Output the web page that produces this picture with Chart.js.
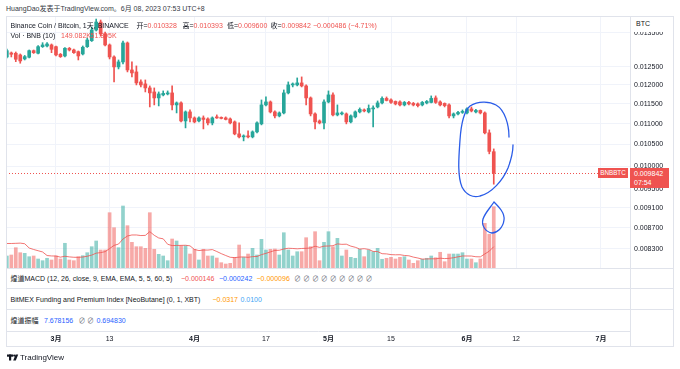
<!DOCTYPE html>
<html><head><meta charset="utf-8">
<script src="https://cdn.jsdelivr.net/npm/chart.js@4.4.0/dist/chart.umd.min.js"></script>
<style>
body{margin:0;background:#fff;width:680px;height:369px;overflow:hidden;position:relative;font-family:"Liberation Sans","Noto Sans CJK SC",sans-serif;color:#131722}
.t{position:absolute;white-space:nowrap;font-size:7px;line-height:9px;color:#131722}
.r{color:#ef5350}.b{color:#2962ff}.o{color:#ff9800}.lb{color:#42a5f5}.g{color:#787b86}
.hl{position:absolute;height:1px;background:#e0e3eb}
</style></head><body>
<div class="t" style="left:6px;top:4px;color:#363a45">HuangDao发表于TradingView.com。6月 08, 2023 07:53 UTC+8</div>
<canvas id="c" width="668" height="331" style="position:absolute;left:6px;top:17px"></canvas>
<div style="position:absolute;left:6px;top:16px;width:668px;height:331px;border:1px solid #e0e3eb;box-sizing:border-box;pointer-events:none"></div>
<div style="position:absolute;left:631px;top:17px;width:42px;height:15px;background:#fff"></div>
<div class="t" style="left:636px;top:19px">BTC</div>
<!-- lower panes -->
<div style="position:absolute;left:7px;top:268px;width:623px;height:63px;background:#fff"></div>
<div class="hl" style="left:6px;top:268px;width:668px"></div>
<div class="hl" style="left:6px;top:288px;width:668px"></div>
<div class="hl" style="left:6px;top:309px;width:668px"></div>
<div style="position:absolute;left:630px;top:331px;width:1px;height:16px;background:#e0e3eb"></div>
<!-- legends -->
<div class="t" style="left:10.5px;top:20.5px">Binance Coin / Bitcoin, 1天, BINANCE</div>
<div class="t" style="left:136.5px;top:20.5px">开=<span class="r">0.010328</span></div>
<div class="t" style="left:182.5px;top:20.5px">高=<span class="r">0.010393</span></div>
<div class="t" style="left:227px;top:20.5px">低=<span class="r">0.009600</span></div>
<div class="t" style="left:270.5px;top:20.5px">收=<span class="r">0.009842</span></div>
<div class="t r" style="left:313px;top:20.5px">−0.000486 (−4.71%)</div>
<div class="t" style="left:10.5px;top:30.5px">Vol · BNB (10)</div>
<div class="t r" style="left:61px;top:30.5px">149.082K</div>
<div class="t r" style="left:90.5px;top:30.5px">51.895K</div>
<div class="t" style="left:10.5px;top:273.8px">煌道MACD (12, 26, close, 9, EMA, EMA, 5, 5, 60, 5)</div>
<div class="t r" style="left:181px;top:273.8px">−0.000146</div>
<div class="t b" style="left:219px;top:273.8px">−0.000242</div>
<div class="t o" style="left:256.5px;top:273.8px">−0.000096</div>
<div class="t g" style="left:294px;top:273.8px">∅ ∅ ∅ ∅ ∅ ∅ ∅ ∅ ∅</div>
<div class="t" style="left:10.5px;top:294.8px">BitMEX Funding and Premium Index [NeoButane] (0, 1, XBT)</div>
<div class="t o" style="left:212.5px;top:294.8px">−0.0317</div>
<div class="t lb" style="left:240.5px;top:294.8px">0.0100</div>
<div class="t" style="left:10.5px;top:315.5px">煌道振幅</div>
<div class="t b" style="left:44px;top:315.5px">7.678156</div>
<div class="t g" style="left:78.5px;top:315.5px">∅</div>
<div class="t g" style="left:87px;top:315.5px">∅</div>
<div class="t b" style="left:96.5px;top:315.5px">0.694830</div>
<!-- price labels -->
<div class="t" style="left:598px;top:168px;width:30px;height:9.5px;background:#ef5350;color:#fff;font-size:6.3px;line-height:9.5px;text-align:center">BNBBTC</div>
<div style="position:absolute;left:630px;top:167.5px;width:39px;height:20px;background:#ef5350"></div>
<div class="t" style="left:634px;top:168.5px;color:#fff">0.009842</div>
<div class="t" style="left:634px;top:177.5px;color:#fff">07:54</div>
<!-- footer and hand-drawn marks -->
<svg style="position:absolute;left:0;top:0" width="680" height="369">
 <g fill="#131722"><rect x="7" y="354.5" width="6" height="2.2"/><rect x="9" y="354.5" width="2.2" height="6"/><circle cx="14.2" cy="355.6" r="1.1"/><path d="M15.6 354.5 L18.2 354.5 L15.8 360.5 L13.2 360.5 Z"/></g>
 <g fill="none" stroke="#2a5ce8" stroke-width="1.3" stroke-linecap="round">
  <path d="M509,137 C509,125 505,110 496,105 C489,101 478,101 470,106 C463,112 461,125 460,140 C459,155 457,175 462,187 C466,195 473,198 480,196 C492,193 503,180 508,168 C511,160 513,152 513,145"/>
  <path d="M494,202 C499,207 505,213 504,220 C503,228 497,233 492,233 C486,232 481,226 483,219 C485,213 490,208 494,202 Z"/>
 </g>
</svg>
<div class="t" style="left:20px;top:353px;font-size:8px;color:#131722">TradingView</div>
<script>
// ---- data (BNB/BTC daily, from 2023-02-18) ----
const startDate = '2023-02-18';
const open = [0.012781,0.012897,0.012888,0.012839,0.012724,0.012773,0.012963,0.012888,0.013080,0.013101,0.013131,
0.013080,0.012859,0.012810,0.013033,0.012983,0.012934,0.012868,0.013080,0.013257,0.013580,
0.013826,0.013459,0.013131,0.012781,0.012498,0.012639,0.013190,0.012413,0.012358,0.012083,
0.012029,0.011921,0.011814,0.011656,0.011735,0.011761,0.011788,0.011474,0.011526,0.011068,
0.011295,0.011143,0.011068,0.011143,0.011118,0.011019,0.011169,0.011156,0.011143,0.011118,
0.011044,0.010750,0.010678,0.010702,0.010678,0.010799,0.010995,0.011474,0.011551,0.011295,
0.011194,0.011269,0.011788,0.012002,0.012002,0.012056,0.011975,0.011656,0.011244,0.011068,
0.011019,0.011551,0.011735,0.011219,0.011244,0.011244,0.011044,0.011169,0.011295,0.011345,
0.011295,0.011371,0.011422,0.011526,0.011643,0.011603,0.011564,0.011551,0.011474,0.011539,
0.011513,0.011500,0.011474,0.011526,0.011539,0.011656,0.011551,0.011513,0.011474,0.011194,
0.011244,0.011282,0.011269,0.011371,0.011295,0.011332,0.011269,0.010775,0.010328];
const high = [0.013012,0.012925,0.012925,0.012868,0.012825,0.012983,0.012983,0.013116,0.013198,0.013204,0.013160,
0.013101,0.012882,0.013057,0.013057,0.013012,0.012954,0.013101,0.013338,0.013672,0.013919,
0.013888,0.013520,0.013160,0.012810,0.012695,0.013249,0.013219,0.012639,0.012526,0.012137,
0.012137,0.011975,0.011921,0.011814,0.011841,0.011841,0.011975,0.011551,0.011551,0.011320,
0.011345,0.011169,0.011169,0.011194,0.011143,0.011169,0.011219,0.011169,0.011169,0.011143,
0.011068,0.011019,0.010727,0.010823,0.010823,0.011044,0.011603,0.011682,0.011577,0.011320,
0.011295,0.011867,0.012083,0.012056,0.012192,0.012220,0.012002,0.011682,0.011269,0.011093,
0.011603,0.011841,0.011788,0.011474,0.011295,0.011269,0.011219,0.011320,0.011397,0.011371,
0.011474,0.011448,0.011577,0.011682,0.011682,0.011629,0.011577,0.011577,0.011564,0.011564,
0.011539,0.011526,0.011564,0.011590,0.011709,0.011709,0.011577,0.011526,0.011500,0.011269,
0.011307,0.011345,0.011397,0.011422,0.011358,0.011345,0.011295,0.010847,0.010393];
const low = [0.012753,0.012781,0.012647,0.012602,0.012695,0.012753,0.012882,0.012868,0.013057,0.013072,0.012905,
0.012810,0.012767,0.012781,0.012954,0.012882,0.012695,0.012839,0.013057,0.013234,0.013550,
0.013399,0.013101,0.012724,0.012083,0.012441,0.012582,0.012358,0.012220,0.012002,0.011948,
0.011814,0.011422,0.011474,0.011448,0.011709,0.011735,0.011345,0.011269,0.011044,0.010896,
0.011044,0.011019,0.011044,0.010871,0.010970,0.010970,0.011131,0.011118,0.011093,0.010995,
0.010727,0.010654,0.010582,0.010654,0.010654,0.010775,0.010970,0.011448,0.011269,0.011143,
0.011169,0.011244,0.011761,0.011948,0.011975,0.011948,0.011474,0.011194,0.010871,0.010995,
0.010871,0.011526,0.011194,0.011194,0.011219,0.010995,0.011019,0.011143,0.011269,0.011295,
0.011269,0.010921,0.011397,0.011500,0.011577,0.011513,0.011474,0.011448,0.011448,0.011474,
0.011448,0.011422,0.011448,0.011500,0.011526,0.011513,0.011448,0.011422,0.011143,0.011143,
0.011219,0.011257,0.011244,0.011295,0.011269,0.011244,0.010750,0.010278,0.009600];
const close = [0.012963,0.012859,0.012715,0.012667,0.012790,0.012963,0.012905,0.013080,0.013131,0.013160,0.013004,
0.012839,0.012790,0.013033,0.012983,0.012905,0.012810,0.013063,0.013278,0.013580,0.013826,
0.013459,0.013131,0.012781,0.012498,0.012639,0.013190,0.012413,0.012330,0.012056,0.012002,
0.011921,0.011788,0.011656,0.011761,0.011775,0.011788,0.011474,0.011526,0.011068,0.011295,
0.011143,0.011044,0.011143,0.011106,0.011019,0.011143,0.011143,0.011131,0.011106,0.011019,
0.010750,0.010678,0.010702,0.010678,0.010799,0.011019,0.011474,0.011551,0.011295,0.011194,
0.011269,0.011788,0.012002,0.012029,0.012056,0.011975,0.011656,0.011244,0.011044,0.011019,
0.011551,0.011735,0.011219,0.011269,0.011269,0.011044,0.011194,0.011295,0.011358,0.011320,
0.011384,0.011397,0.011526,0.011643,0.011590,0.011539,0.011500,0.011474,0.011539,0.011500,
0.011474,0.011456,0.011539,0.011564,0.011643,0.011539,0.011474,0.011456,0.011194,0.011244,
0.011282,0.011295,0.011371,0.011320,0.011332,0.011269,0.010775,0.010335,0.009842];
const volume = [29.2,31.6,49.4,37.2,35.7,27.5,29.2,21.9,17.8,23.6,19.5,
29.2,21.9,60.1,19.5,17.8,27.5,29.9,37.2,51.8,65.7,
43.8,43.8,134.5,98,49.4,150.8,102.9,62.5,51.8,51.8,
47.9,134.5,45.5,33.3,29.2,17.8,70.5,65.7,54.2,54.2,
34,45.5,19.5,45.5,29.2,29.2,24.3,12.9,9.7,11.4,
26,55.9,26,34,47.9,31.6,69.8,43.8,45.5,46.2,
31.6,85.8,43.8,29.2,39.6,39.6,73.7,51.8,88.3,17.8,
62.5,88.3,51.8,72.2,29.2,43.8,26,23.6,45.5,27.5,
43.8,39.6,47.9,21.2,23.6,26,21.9,26,27.5,19.5,
11.4,17.8,21.2,23.6,29.2,25,38.2,15.3,34,34,
34,37.2,21.9,21.9,12.9,21.9,108.7,82,149.082];
const volumeMA = [59.6,59.6,60,60.5,59,48.6,45,42,39,30.3,29.3,
29.1,26.4,28.6,27.0,26.1,25.9,26.7,28.6,31.4,36.1,
37.5,39.7,47.2,55.0,58.2,70.5,77.8,80.3,80.3,78.9,
79.3,88.4,79.5,73.0,71.0,57.7,54.5,54.8,55.0,55.3,
53.9,45.0,42.4,43.6,43.6,44.8,40.1,34.9,30.4,26.1,
25.3,26.4,27.0,25.9,27.7,28.0,32.5,35.6,39.2,42.7,
43.2,46.2,48.0,47.5,46.7,47.5,47.9,48.7,53.0,50.1,
53.2,53.5,54.3,58.6,57.5,57.9,53.2,50.4,46.1,47.0,
45.2,40.3,39.9,34.8,34.3,32.5,32.1,32.3,30.5,29.7,
26.5,24.3,21.6,21.9,22.4,22.3,23.9,22.9,23.5,25.0,
27.2,29.2,29.2,29.1,27.4,27.1,34.2,40.9,51.895];
const priceTicks = [0.0083,0.0087,0.0091,0.0095,0.0100,0.0105,0.0110,0.0115,0.0120,0.0125,0.0135];
const timeTickDates = ['2023-03-01','2023-03-13','2023-04-01','2023-04-17','2023-05-01','2023-05-15','2023-06-01','2023-06-12','2023-07-01'];
const timeTickLabels = ['3月','13','4月','17','5月','15','6月','12','7月'];

// ---- build ----
const DAY = 86400000, ORIGIN = Date.UTC(2023,2,1);
function dayNum(s){const p=s.split('-').map(Number);return (Date.UTC(p[0],p[1]-1,p[2])-ORIGIN)/DAY;}
const x0 = dayNum(startDate);
const xs = open.map((_,i)=>x0+i);
const UP='#26a69a', DN='#ef5350', UPV='rgba(38,166,154,0.5)', DNV='rgba(239,83,80,0.5)';
const isUp = open.map((o,i)=>close[i]>=o);
const FAM = '"Liberation Sans","Noto Sans CJK SC",sans-serif';

const priceLine = {id:'priceLine', afterDatasetsDraw(chart){
  const ctx=chart.ctx, a=chart.chartArea, y=Math.round(chart.scales.y.getPixelForValue(close[close.length-1]))+0.5;
  ctx.save(); ctx.strokeStyle='#ef5350'; ctx.lineWidth=1; ctx.setLineDash([1,2]);
  ctx.beginPath(); ctx.moveTo(a.left,y); ctx.lineTo(a.right,y); ctx.stroke(); ctx.restore();
}};

new Chart(document.getElementById('c'), {
  type:'bar',
  data:{datasets:[
    {type:'bar', yAxisID:'yv', data:xs.map((x,i)=>({x, y:volume[i]})), backgroundColor:isUp.map(u=>u?UPV:DNV), barThickness:3, grouped:false, order:4},
    {type:'line', yAxisID:'yv', data:xs.map((x,i)=>({x, y:volumeMA[i]})), borderColor:'rgba(239,83,80,0.8)', borderWidth:1, pointRadius:0, tension:0, order:3},
    {type:'bar', yAxisID:'y', data:xs.map((x,i)=>({x, y:[low[i],high[i]]})), backgroundColor:isUp.map(u=>u?UP:DN), barThickness:1, grouped:false, order:2},
    {type:'bar', yAxisID:'y', data:xs.map((x,i)=>({x, y:[open[i],close[i]]})), backgroundColor:isUp.map(u=>u?UP:DN), barThickness:3, minBarLength:1, grouped:false, order:1}
  ]},
  options:{
    responsive:false, animation:false, devicePixelRatio:1,
    layout:{padding:0},
    plugins:{legend:{display:false}, tooltip:{enabled:false}},
    scales:{
      x:{type:'linear', min:-11.19, max:128.5, offset:false,
         afterBuildTicks:a=>{a.ticks=timeTickDates.map(s=>({value:dayNum(s)}));},
         afterFit:s=>{s.height=17; s.paddingLeft=0; s.paddingRight=0;},
         grid:{color:'#f0f3fa', drawTicks:false, offset:false}, border:{color:'#e0e3eb'},
         ticks:{autoSkip:false, maxRotation:0, padding:4, color:'#131722',
           callback:(v,i)=>timeTickLabels[i],
           font:c=>({family:FAM, size:7, weight:(c.tick&&String(c.tick.label).indexOf('月')>=0)?'bold':'normal'})}},
      y:{type:'logarithmic', position:'right', min:0.0069048, max:0.013983,
         afterBuildTicks:a=>{a.ticks=priceTicks.map(v=>({value:v}));},
         afterFit:s=>{s.width=44; s.paddingTop=0; s.paddingBottom=0;},
         grid:{color:'#f0f3fa', drawTicks:false}, border:{color:'#e0e3eb'},
         ticks:{padding:4, color:'#131722', font:{family:FAM, size:7}, callback:v=>Number(v).toFixed(6)}},
      yv:{type:'linear', display:false, min:-153.2, max:610.4}
    }
  },
  plugins:[priceLine]
});
</script>
</body></html>
